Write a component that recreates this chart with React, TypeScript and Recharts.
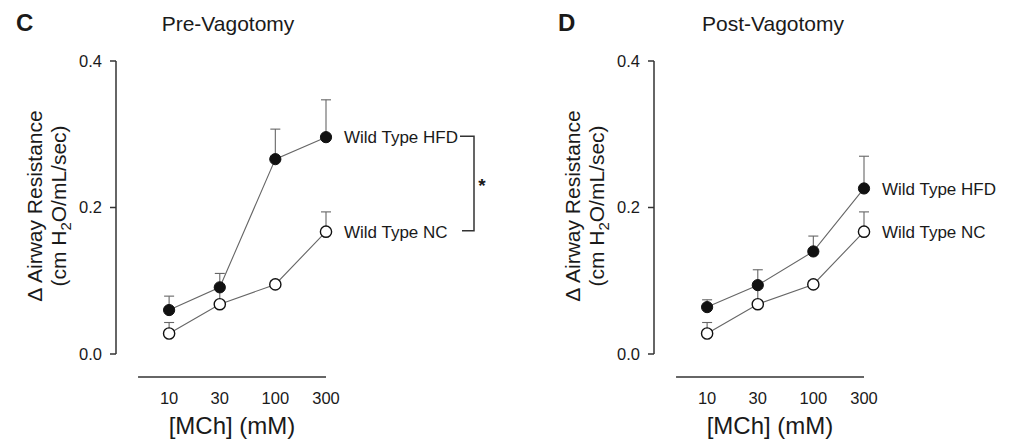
import React from 'react';
import { LineChart, Line, XAxis, YAxis, ErrorBar, ReferenceLine, Customized } from 'recharts';

// MCh doses (log axis)
const doses = [10, 30, 100, 300];
const doseTicks = [10, 30, 100, 300];
const yTicks = [0, 0.2, 0.4];
const seriesNames = ['Wild Type HFD', 'Wild Type NC'];

// Pre-vagotomy
const preHfd = [0.06, 0.091, 0.266, 0.296];
const preHfdErr = [0.019, 0.019, 0.041, 0.051];
const preNc = [0.028, 0.068, 0.095, 0.167];
const preNcErr = [0.015, 0.02, 0.005, 0.027];

// Post-vagotomy
const postHfd = [0.064, 0.094, 0.14, 0.226];
const postHfdErr = [0.01, 0.021, 0.021, 0.044];
const postNc = [0.028, 0.068, 0.095, 0.167];
const postNcErr = [0.015, 0.022, 0.005, 0.027];

const FONT = '"Liberation Sans", Arial, Helvetica, sans-serif';
const INK = '#1a1a1a';
const AXIS = '#333';
const X_MIN = 3.162;
const X_LINE_START = 5.1;
const Y_MIN = -0.0314;
const Y_MAX = 0.4;
const CHART_H = 441;
const TOP = 61;
const X_AXIS_H = 64;
const PX_PER_UNIT = (CHART_H - TOP - X_AXIS_H) / (Y_MAX - Y_MIN);

type PanelProps = {
  letter: string;
  letterX: number;
  title: string;
  titleX: number;
  hfd: number[];
  hfdErr: number[];
  nc: number[];
  ncErr: number[];
  width: number;
  marginRight: number;
  bracket: boolean;
};

const Panel = ({ letter, letterX, title, titleX, hfd, hfdErr, nc, ncErr, width, marginRight, bracket }: PanelProps) => {
  const data = doses.map((d, i) => ({
    dose: d,
    hfd: hfd[i],
    hfdErr: [0, hfdErr[i]],
    nc: nc[i],
    ncErr: [0, ncErr[i]],
  }));
  const last = doses.length - 1;
  const gap = (hfd[last] - nc[last]) * PX_PER_UNIT;

  const hfdDot = (p: any) => {
    const { cx, cy, index } = p;
    return (
      <g key={`h-${index}`}>
        <circle cx={cx} cy={cy} r={5.6} fill="#111" stroke="#111" strokeWidth={1} />
        {index === last && (
          <text x={cx + 18} y={cy} dy="0.36em" fontSize={17} fill={INK} fontFamily={FONT}>
            {seriesNames[0]}
          </text>
        )}
        {index === last && bracket && (
          <g>
            <path
              d={`M${cx + 134},${cy - 1} H${cx + 148} V${cy + gap - 1} H${cx + 136}`}
              fill="none"
              stroke={AXIS}
              strokeWidth={1.5}
            />
            <text x={cx + 156} y={cy + gap / 2 + 8} textAnchor="middle" fontSize={19} fontWeight="bold" fill={INK} fontFamily={FONT}>
              *
            </text>
          </g>
        )}
      </g>
    );
  };

  const ncDot = (p: any) => {
    const { cx, cy, index } = p;
    return (
      <g key={`n-${index}`}>
        <circle cx={cx} cy={cy} r={5.6} fill="#fff" stroke="#111" strokeWidth={1.4} />
        {index === last && (
          <text x={cx + 18} y={cy} dy="0.36em" fontSize={17} fill={INK} fontFamily={FONT}>
            {seriesNames[1]}
          </text>
        )}
      </g>
    );
  };

  const Texts = () => (
    <g fontFamily={FONT} fill={INK}>
      <text x={letterX} y={31} fontSize={24} fontWeight="bold">{letter}</text>
      <text x={titleX} y={31} fontSize={21} textAnchor="middle">{title}</text>
      <g transform="rotate(-90, 54, 206)">
        <text x={54} y={206 - 12} textAnchor="middle" fontSize={21}>Δ Airway Resistance</text>
        <text x={54} y={206 + 12} textAnchor="middle" fontSize={21}>
          (cm H<tspan fontSize={15} dy={5}>2</tspan><tspan dy={-5}>O/mL/sec)</tspan>
        </text>
      </g>
    </g>
  );

  return (
    <LineChart width={width} height={CHART_H} data={data} margin={{ top: TOP, right: marginRight, bottom: 0, left: 0 }}>
      <XAxis
        dataKey="dose"
        type="number"
        scale="log"
        domain={[X_MIN, 300]}
        ticks={doseTicks}
        axisLine={false}
        tickLine={false}
        tickSize={6}
        tickMargin={9}
        height={X_AXIS_H}
        tick={{ fontSize: 16.5, fill: INK, fontFamily: FONT }}
        label={{
          content: (lp: any) => {
            const vb = lp.viewBox || {};
            return (
              <text x={vb.x + vb.width / 2 + 11} y={vb.y + 57} textAnchor="middle" fontSize={24} fill={INK} fontFamily={FONT}>
                [MCh] (mM)
              </text>
            );
          },
        }}
      />
      <YAxis
        type="number"
        domain={[Y_MIN, Y_MAX]}
        ticks={yTicks}
        tickFormatter={(v: number) => v.toFixed(1)}
        axisLine={false}
        tickLine={{ stroke: AXIS, strokeWidth: 1.5 }}
        tickSize={6}
        tickMargin={8}
        width={116}
        tick={{ fontSize: 16.5, fill: INK, fontFamily: FONT }}
      />
      <ReferenceLine
        segment={[{ x: X_MIN, y: 0 }, { x: X_MIN, y: Y_MAX }]}
        stroke={AXIS}
        strokeWidth={1.5}
        ifOverflow="visible"
      />
      <ReferenceLine
        segment={[{ x: X_LINE_START, y: Y_MIN }, { x: 300, y: Y_MIN }]}
        stroke={AXIS}
        strokeWidth={1.5}
        ifOverflow="visible"
      />
      <Line
        dataKey="nc"
        stroke="#666"
        strokeWidth={1.1}
        dot={ncDot}
        activeDot={false}
        isAnimationActive={false}
      >
        <ErrorBar dataKey="ncErr" direction="y" width={5} stroke="#666" strokeWidth={1.1} />
      </Line>
      <Line
        dataKey="hfd"
        stroke="#666"
        strokeWidth={1.1}
        dot={hfdDot}
        activeDot={false}
        isAnimationActive={false}
      >
        <ErrorBar dataKey="hfdErr" direction="y" width={5} stroke="#666" strokeWidth={1.1} />
      </Line>
      <Customized component={<Texts />} />
    </LineChart>
  );
};

export default function App() {
  return (
    <div style={{ position: 'absolute', left: 0, top: 0, width: 1009, height: 441, background: '#fff' }}>
      <div style={{ position: 'absolute', left: 0, top: 0 }}>
        <Panel
          letter="C"
          letterX={16}
          title="Pre-Vagotomy"
          titleX={228}
          hfd={preHfd}
          hfdErr={preHfdErr}
          nc={preNc}
          ncErr={preNcErr}
          width={538}
          marginRight={212}
          bracket
        />
      </div>
      <div style={{ position: 'absolute', left: 538, top: 0 }}>
        <Panel
          letter="D"
          letterX={20}
          title="Post-Vagotomy"
          titleX={235}
          hfd={postHfd}
          hfdErr={postHfdErr}
          nc={postNc}
          ncErr={postNcErr}
          width={471}
          marginRight={145}
          bracket={false}
        />
      </div>
    </div>
  );
}
